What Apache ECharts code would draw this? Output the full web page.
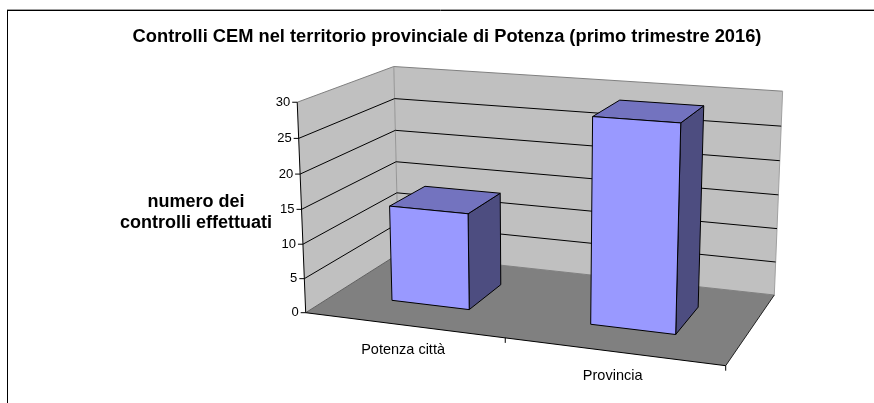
<!DOCTYPE html>
<html><head><meta charset="utf-8">
<style>html,body{margin:0;padding:0;background:#fff}#c{width:874px;height:403px}</style>
<script src="https://cdn.jsdelivr.net/npm/echarts@6/dist/echarts.min.js"></script>
</head><body><div id="c"></div>
<script>
var categories = ['Potenza città', 'Provincia'];
var controlValues = [14, 29];
var valueTicks = [0, 5, 10, 15, 20, 25, 30];
var titleText = 'Controlli CEM nel territorio provinciale di Potenza (primo trimestre 2016)';
var yAxisTitle = 'numero dei\ncontrolli effettuati';

/* picture-plane anchors of the 3D box */
var FLOOR = {A:[305.7,312.7], B:[725.7,365.7], C:[398.3,254], D:[774.3,295]};
var TOPS = [{u:0,z:0,p:[297.7,102.3]}, {u:0,z:1,p:[393.3,66]}, {u:1,z:1,p:[782.7,91.7]}];
var GRID = {left:306, top:102, width:420, height:211};
var BAR_U = 0.4, BAR_Z = [0.3, 0.7];

function solve(M, r){
  var n=r.length, a=M.map(function(row,i){return row.concat([r[i]]);});
  for(var i=0;i<n;i++){
    var p=i; for(var k=i+1;k<n;k++) if(Math.abs(a[k][i])>Math.abs(a[p][i])) p=k;
    var t=a[i];a[i]=a[p];a[p]=t;
    for(var k=0;k<n;k++){ if(k===i) continue; var f=a[k][i]/a[i][i];
      for(var j=i;j<=n;j++) a[k][j]-=f*a[i][j]; }
  }
  return a.map(function(row,i){return row[n]/row[i];});
}
/* floor homography (u,z) -> picture */
var H=(function(){
  var pts=[[0,0,FLOOR.A],[1,0,FLOOR.B],[0,1,FLOOR.C],[1,1,FLOOR.D]], M=[], r=[];
  pts.forEach(function(q){var u=q[0],z=q[1],x=q[2][0],y=q[2][1];
    M.push([u,z,1,0,0,0,-u*x,-z*x]); r.push(x);
    M.push([0,0,0,u,z,1,-u*y,-z*y]); r.push(y);});
  var h=solve(M,r); h.push(1); return h;
})();
function floorH(u,z){return [H[0]*u+H[1]*z+H[2], H[3]*u+H[4]*z+H[5], H[6]*u+H[7]*z+H[8]];}
/* vertical column by least squares from the top anchors */
var V=(function(){
  var rows=[],rhs=[];
  TOPS.forEach(function(t){var h=floorH(t.u,t.z),x=t.p[0],y=t.p[1];
    rows.push([1,0,-x]); rhs.push(x*h[2]-h[0]);
    rows.push([0,1,-y]); rhs.push(y*h[2]-h[1]);});
  var N=[[0,0,0],[0,0,0],[0,0,0]],b=[0,0,0];
  rows.forEach(function(R,k){for(var i=0;i<3;i++){b[i]+=R[i]*rhs[k];for(var j=0;j<3;j++)N[i][j]+=R[i]*R[j];}});
  return solve(N,b);
})();
function proj(u,v,z){var h=floorH(u,z),w=h[2]+v*V[2];return [(h[0]+v*V[0])/w,(h[1]+v*V[1])/w];}
/* library scale -> normalised box position */
function norm(api,cat,val){
  var c=api.coord([cat,val]);
  return {u:(c[0]-GRID.left)/GRID.width, v:(GRID.top+GRID.height-c[1])/GRID.height, w:api.size([1,0])[0]/GRID.width};
}
function poly(points,fill,stroke,lw){
  return {type:'polygon',shape:{points:points},style:{fill:fill,stroke:stroke||null,lineWidth:lw||0}};
}
function seg(a,b,color,lw){
  return {type:'line',shape:{x1:a[0],y1:a[1],x2:b[0],y2:b[1]},style:{stroke:color,lineWidth:lw||1,fill:null}};
}
function renderBox(p,api){
  return {type:'group',silent:true,children:[
    poly([proj(0,1,0),proj(0,1,1),proj(0,0,1),proj(0,0,0)],'#C0C0C0'),
    poly([proj(0,1,1),proj(1,1,1),proj(1,0,1),proj(0,0,1)],'#C0C0C0'),
    poly([proj(0,0,0),proj(1,0,0),proj(1,0,1),proj(0,0,1)],'#808080'),
    seg(proj(0,1,0),proj(0,1,1),'#808080',1),
    seg(proj(0,1,1),proj(1,1,1),'#808080',1),
    seg(proj(0,1,1),proj(0,0,1),'#969696',1),
    seg(proj(1,1,1),proj(1,0,1),'#a0a0a0',1),
    seg(proj(0,0,1),proj(1,0,1),'#808080',1),
    seg(proj(0,0,0),proj(0,0,1),'#606060',1),
    seg(proj(1,0,0),proj(1,0,1),'#222',1),
    seg(proj(0,0,0),proj(1,0,0),'#000',1),
    seg(proj(0,0,0),proj(0,1,0),'#000',1)
  ]};
}
function renderTick(p,api){
  var val=api.value(0), n=norm(api,0,val), a=proj(0,n.v,0), b=proj(0,n.v,1), c=proj(1,n.v,1);
  var kids=[seg([a[0]-5,a[1]],a,'#000',1),
    {type:'text',style:{x:a[0]-7,y:a[1],text:String(val),fill:'#000',font:'13px "Liberation Sans"',align:'right',verticalAlign:'middle'}}];
  if(val>0&&val<30){kids.push(seg(a,b,'#000',1));kids.push(seg(b,c,'#000',1));}
  return {type:'group',silent:true,children:kids};
}
function renderCat(p,api){
  var i=api.value(0), n=norm(api,i,0), uc=n.u, w=n.w;
  var u1=uc+w/2, at=proj(uc,0,0), e=proj(u1,0,0);
  return {type:'group',silent:true,children:[
    seg(e,[e[0],e[1]+5],'#000',1),
    {type:'text',style:{x:at[0],y:at[1]+25,text:categories[i],fill:'#000',font:'14.5px "Liberation Sans"',align:'center',verticalAlign:'middle'}}
  ]};
}
function renderBar(p,api){
  var i=api.value(0), n=norm(api,i,api.value(1)), hw=n.w*BAR_U/2, v=n.v;
  var u0=n.u-hw,u1=n.u+hw,z0=BAR_Z[0],z1=BAR_Z[1];
  var s={stroke:'#000',lw:1};
  return {type:'group',children:[
    poly([proj(u1,0,z0),proj(u1,0,z1),proj(u1,v,z1),proj(u1,v,z0)],'#4D4D80',s.stroke,s.lw),
    poly([proj(u0,v,z0),proj(u1,v,z0),proj(u1,v,z1),proj(u0,v,z1)],'#7373BF',s.stroke,s.lw),
    poly([proj(u0,0,z0),proj(u1,0,z0),proj(u1,v,z0),proj(u0,v,z0)],'#9999FF',s.stroke,s.lw)
  ]};
}
var chart=echarts.init(document.getElementById('c'),null,{renderer:'canvas'});
chart.setOption({
  animation:false,
  backgroundColor:'#fff',
  title:{text:titleText,left:442,top:23,textAlign:'center',
    textStyle:{fontFamily:'Liberation Sans',fontSize:18.3,fontWeight:'bold',color:'#000'}},
  grid:{left:GRID.left,top:GRID.top,width:GRID.width,height:GRID.height},
  xAxis:{type:'category',data:categories,show:false},
  yAxis:{type:'value',min:0,max:30,interval:5,show:false},
  graphic:[
    {type:'line',shape:{x1:7,y1:9.5,x2:874,y2:9.5},style:{stroke:'#a0a0a0',lineWidth:1},silent:true},
    {type:'line',shape:{x1:7,y1:10.5,x2:874,y2:10.5},style:{stroke:'#000',lineWidth:1},silent:true},
    {type:'line',shape:{x1:7.5,y1:10,x2:7.5,y2:403},style:{stroke:'#000',lineWidth:1},silent:true},
    {type:'text',style:{x:196,y:212.5,text:yAxisTitle,fill:'#000',font:'bold 18px "Liberation Sans"',align:'center',verticalAlign:'middle',lineHeight:21},silent:true}
  ],
  series:[
    {type:'custom',name:'box',coordinateSystem:'cartesian2d',data:[[0,0]],renderItem:renderBox,z:1,silent:true},
    {type:'custom',name:'ticks',coordinateSystem:'cartesian2d',data:valueTicks.map(function(t){return [t];}),encode:{y:0},renderItem:renderTick,z:2,silent:true},
    {type:'custom',name:'cats',coordinateSystem:'cartesian2d',data:categories.map(function(c,i){return [i];}),encode:{x:0},renderItem:renderCat,z:2,silent:true},
    {type:'custom',name:'Controlli',coordinateSystem:'cartesian2d',data:controlValues.map(function(v,i){return [i,v];}),encode:{x:0,y:1},renderItem:renderBar,z:3}
  ]
});
</script></body></html>
